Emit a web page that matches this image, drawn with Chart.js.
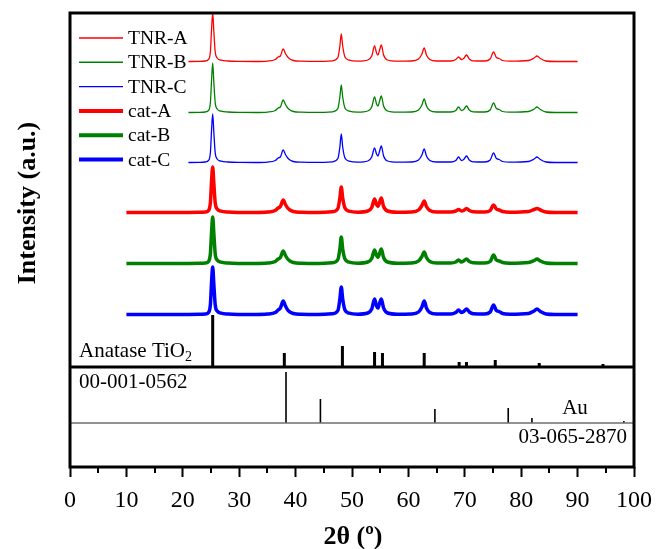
<!DOCTYPE html>
<html>
<head>
<meta charset="utf-8">
<script src="https://cdn.jsdelivr.net/npm/chart.js@4/dist/chart.umd.min.js"></script>
<style>
  html, body { margin: 0; padding: 0; background: #fff; }
  canvas { display: block; }
</style>
</head>
<body>
<canvas id="xrd" width="657" height="549"></canvas>
<script>
// XRD patterns, stacked with vertical offsets (intensity in arbitrary units).

const twoTheta = [10, 15, 20, 21, 23, 24, 24.6, 24.9, 25.1, 25.3, 25.5, 25.75, 26.1, 26.8,
  28, 30, 33, 35, 36.4, 36.9, 37.3, 37.8, 38.2, 38.6, 39.0, 39.6, 41, 44, 46.5,
  47.5, 47.85, 48.1, 48.35, 48.75, 49.5, 51, 52.8, 53.5, 54.0, 54.35, 54.6, 54.85,
  55.2, 55.6, 56.3, 58, 60.5, 61.8, 62.4, 62.8, 63.2, 63.8, 65, 67.5, 68.4, 68.9,
  69.4, 69.8, 70.3, 70.8, 71.5, 73.5, 74.5, 75.1, 75.6, 76.1, 76.7, 78, 81.3, 82.3,
  82.8, 83.4, 84.4, 86, 90];

const tnrA = [null, null, null, 0.5, 0.6, 1.0, 2.8, 11, 33, 49, 31, 10, 4, 1.8,
  1.0, 0.6, 0.5, 0.9, 2.5, 5, 6, 13, 8.5, 5, 3, 1.5, 0.8, 0.6, 1.2,
  4.5, 16, 28, 16, 5, 1.8, 0.8, 2, 6, 16, 9, 7, 11,
  17, 7, 2, 0.8, 1, 3, 8, 14, 7, 2.5, 1, 1, 2.5, 5,
  2.5, 3.5, 7, 3, 1.2, 1, 3, 10, 4.5, 3.5, 1.5, 0.8, 1.5, 4,
  6, 3.5, 1, 0.5, 0.5];
const tnrB = [null, null, null, 0.5, 0.6, 1.0, 2.8, 11, 33, 50, 31, 10, 4, 1.8,
  1.0, 0.6, 0.5, 0.9, 2.5, 5, 6, 13, 8.5, 5, 3, 1.5, 0.8, 0.6, 1.2,
  4.5, 16, 28, 16, 5, 1.8, 0.8, 2, 6, 16, 9, 7, 11,
  17, 7, 2, 0.8, 1, 3, 8, 14, 7, 2.5, 1, 1, 2.5, 6,
  2.5, 3.5, 7, 3, 1.2, 1, 3, 10, 4.5, 3.5, 1.5, 0.8, 1.5, 4,
  6, 3.5, 1, 0.5, 0.5];
const tnrC = [null, null, null, 0.5, 0.6, 1.0, 2.8, 11, 33, 49, 31, 10, 4, 1.8,
  1.0, 0.6, 0.5, 0.9, 2.5, 5, 6, 13, 8.5, 5, 3, 1.5, 0.8, 0.6, 1.2,
  4.5, 16, 29, 16, 5, 1.8, 0.8, 2, 6, 15, 9, 7, 11,
  17, 7, 2, 0.8, 1, 3, 8, 14, 7, 2.5, 1, 1, 2.5, 6,
  2.5, 3.5, 7, 3, 1.2, 1, 3, 10, 4.5, 3.5, 1.5, 0.8, 1.5, 4,
  6, 3.5, 1, 0.5, 0.5];
const catA = [0.5, 0.5, 0.6, 0.6, 0.7, 1.0, 2.8, 11, 32, 46, 30, 10, 4, 1.8,
  1.0, 0.6, 0.5, 0.9, 2.5, 5, 6.5, 13, 8.5, 5, 3, 1.5, 0.8, 0.6, 1.2,
  4.5, 15, 26, 15, 5, 1.8, 0.8, 2, 5.5, 14, 8.5, 6.5, 10,
  15, 6.5, 2, 0.8, 1, 3, 7.5, 12, 6.5, 2.5, 1, 1, 2, 3.5,
  2, 2.5, 4.5, 2.5, 1.2, 1, 2.5, 8, 4, 3, 1.5, 0.8, 1.5, 3.5,
  4.5, 3, 1, 0.5, 0.5];
const catB = [0.5, 0.5, 0.6, 0.6, 0.7, 1.0, 2.8, 11, 32, 47, 31, 10, 4, 1.8,
  1.0, 0.6, 0.5, 0.9, 2.5, 5, 6.5, 13, 8.5, 5, 3, 1.5, 0.8, 0.6, 1.2,
  4.5, 15, 27, 15, 5, 1.8, 0.8, 2, 5.5, 14, 8.5, 6.5, 10,
  15, 6.5, 2, 0.8, 1, 3, 7.5, 12, 6.5, 2.5, 1, 1, 2, 4,
  2, 3, 5, 2.5, 1.2, 1, 2.5, 9, 4, 3, 1.5, 0.8, 1.5, 3.5,
  5, 3, 1, 0.5, 0.5];
const catC = [0.5, 0.5, 0.6, 0.6, 0.7, 1.0, 2.8, 11, 33, 48, 31, 10, 4, 1.8,
  1.0, 0.6, 0.5, 0.9, 2.5, 5, 7, 14, 9, 5, 3, 1.5, 0.8, 0.6, 1.2,
  4.5, 16, 28, 16, 5, 1.8, 0.8, 2, 6, 16, 9, 7, 11,
  16, 7, 2, 0.8, 1, 3, 8, 14, 7, 2.5, 1, 1, 2.5, 5,
  2.5, 3.5, 6, 3, 1.2, 1, 3, 10, 4.5, 3.5, 1.5, 0.8, 1.5, 4,
  6, 3.5, 1, 0.5, 0.5];

// reference cards
const anatasePos = [25.3, 38.0, 48.3, 54.0, 55.4, 62.8, 69.0, 70.3, 75.4, 83.2, 94.5];
const anataseInt = [52, 14, 21, 15, 14, 14, 5, 5, 7, 4, 3];
const goldPos = [38.3, 44.4, 64.7, 77.7, 81.9, 98.2];
const goldInt = [51, 24, 14, 15, 5, 2];

// vertical offsets of each trace / card baseline
const offsets = { tnrA: 405, tnrB: 354, tnrC: 304, catA: 254, catB: 203, catC: 152, anatase: 100, gold: 44 };

const RED = '#ff0000', GREEN = '#008000', BLUE = '#0000ff';
const SERIF = '"Liberation Serif", "Times New Roman", serif';

function trace(values, offset) {
  return twoTheta.map((t, i) => ({ x: t, y: values[i] == null ? null : values[i] + offset }));
}

function sticks(pos, ints, base) {
  const pts = [];
  pos.forEach((p, i) => {
    pts.push({ x: p, y: base }, { x: p, y: base + ints[i] }, { x: p, y: null });
  });
  return pts;
}

function lineSet(label, data, color, width) {
  return {
    label, data, borderColor: color, borderWidth: width,
    pointRadius: 0, fill: false, cubicInterpolationMode: 'monotone', spanGaps: false
  };
}

const legendItems = [
  { text: 'TNR-A', color: RED, width: 1.4 },
  { text: 'TNR-B', color: GREEN, width: 1.4 },
  { text: 'TNR-C', color: BLUE, width: 1.4 },
  { text: 'cat-A', color: RED, width: 4 },
  { text: 'cat-B', color: GREEN, width: 4 },
  { text: 'cat-C', color: BLUE, width: 4 }
];

const decorations = {
  id: 'decorations',
  afterDatasetsDraw(chart) {
    const { ctx, chartArea: a, scales: { x, y } } = chart;
    ctx.save();
    ctx.strokeStyle = '#000';
    ctx.lineCap = 'butt';

    // separator between patterns and gold card
    ctx.lineWidth = 3;
    ctx.beginPath();
    ctx.moveTo(a.left, y.getPixelForValue(offsets.anatase));
    ctx.lineTo(a.right, y.getPixelForValue(offsets.anatase));
    ctx.stroke();

    // frame
    ctx.strokeRect(a.left, a.top, a.right - a.left, a.bottom - a.top);

    // minor ticks
    ctx.lineWidth = 2;
    for (let v = 5; v < 100; v += 10) {
      const px = Math.round(x.getPixelForValue(v));
      ctx.beginPath();
      ctx.moveTo(px, a.bottom);
      ctx.lineTo(px, a.bottom + 6);
      ctx.stroke();
    }

    // legend
    ctx.textBaseline = 'middle';
    ctx.textAlign = 'left';
    ctx.font = '19.5px ' + SERIF;
    legendItems.forEach((it, i) => {
      const ly = 38 + i * 24.3;
      ctx.strokeStyle = it.color;
      ctx.lineWidth = it.width;
      ctx.beginPath();
      ctx.moveTo(79, ly);
      ctx.lineTo(123, ly);
      ctx.stroke();
      ctx.fillStyle = '#000';
      ctx.fillText(it.text, 128, ly + 1);
    });

    // card labels
    ctx.fillStyle = '#000';
    ctx.font = '21px ' + SERIF;
    const anY = 351;
    ctx.fillText('Anatase TiO', 79, anY);
    const w = ctx.measureText('Anatase TiO').width;
    ctx.font = '14px ' + SERIF;
    ctx.fillText('2', 79 + w, anY + 6);
    ctx.font = '21px ' + SERIF;
    ctx.fillText('00-001-0562', 79, 382);
    ctx.textAlign = 'center';
    ctx.fillText('Au', 575, 408);
    ctx.textAlign = 'right';
    ctx.fillText('03-065-2870', 627, 437);

    // axis titles
    ctx.textAlign = 'center';
    ctx.font = 'bold 26px ' + SERIF;
    ctx.fillText('2\u03b8 (\u00ba)', 353, 537);
    ctx.translate(28, 203);
    ctx.rotate(-Math.PI / 2);
    ctx.fillText('Intensity (a.u.)', 0, 0);
    ctx.restore();
  }
};

new Chart(document.getElementById('xrd'), {
  type: 'line',
  data: {
    datasets: [
      lineSet('TNR-A', trace(tnrA, offsets.tnrA), RED, 1.3),
      lineSet('TNR-B', trace(tnrB, offsets.tnrB), GREEN, 1.3),
      lineSet('TNR-C', trace(tnrC, offsets.tnrC), BLUE, 1.3),
      lineSet('cat-A', trace(catA, offsets.catA), RED, 3.5),
      lineSet('cat-B', trace(catB, offsets.catB), GREEN, 3.5),
      lineSet('cat-C', trace(catC, offsets.catC), BLUE, 3.5),
      { label: 'Anatase', data: sticks(anatasePos, anataseInt, offsets.anatase),
        borderColor: '#000', borderWidth: 3, pointRadius: 0, tension: 0, spanGaps: false },
      { label: 'Au baseline', data: [{ x: 0, y: offsets.gold }, { x: 100, y: offsets.gold }],
        borderColor: '#6e6e6e', borderWidth: 1.5, pointRadius: 0, tension: 0 },
      { label: 'Au', data: sticks(goldPos, goldInt, offsets.gold),
        borderColor: '#000', borderWidth: 1.6, pointRadius: 0, tension: 0, spanGaps: false }
    ]
  },
  options: {
    responsive: false,
    animation: false,
    clip: false,
    layout: { padding: { left: 70, right: 23, top: 13, bottom: 0 } },
    plugins: { legend: { display: false }, tooltip: { enabled: false } },
    scales: {
      x: {
        type: 'linear', min: 0, max: 100,
        ticks: { stepSize: 10, color: '#000', padding: 9, font: { family: SERIF, size: 24 }, maxRotation: 0 },
        grid: { drawOnChartArea: false, tickLength: 10, tickWidth: 2, tickColor: '#000' },
        border: { display: false },
        afterFit(scale) {
          scale.height = 82;
          scale.paddingLeft = 0;
          scale.paddingRight = 0;
        }
      },
      y: { display: false, min: 0, max: 454 }
    }
  },
  plugins: [decorations]
});
</script>
</body>
</html>
